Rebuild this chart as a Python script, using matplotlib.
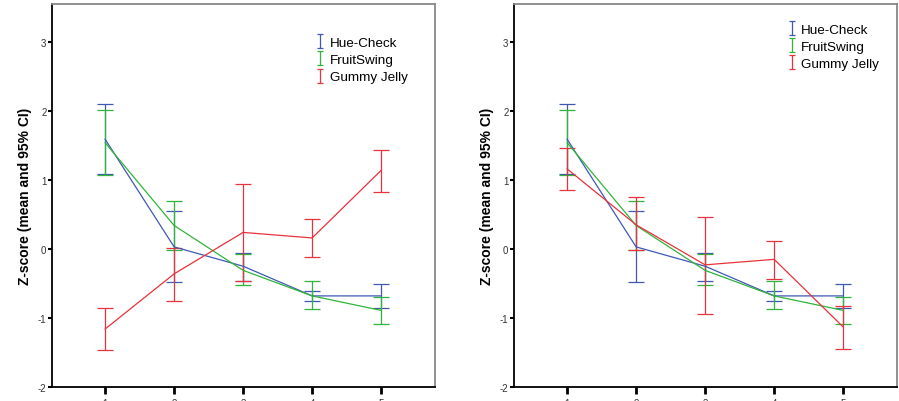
import matplotlib
matplotlib.use('Agg')
import matplotlib.pyplot as plt
from matplotlib.path import Path
from matplotlib.lines import Line2D

plt.rcParams['font.family'] = ['Liberation Sans', 'DejaVu Sans']
plt.rcParams['axes.unicode_minus'] = False

# --- Data ---
x = [1, 2, 3, 4, 5]
series = ['Hue-Check', 'FruitSwing', 'Gummy Jelly']
colors = ['#3f58b4', '#2fb53a', '#e8323c']

hue_mean = [1.59, 0.03, -0.25, -0.68, -0.68]
hue_lo = [1.08, -0.48, -0.46, -0.76, -0.85]
hue_hi = [2.10, 0.55, -0.06, -0.61, -0.51]

fruit_mean = [1.54, 0.34, -0.31, -0.68, -0.89]
fruit_lo = [1.07, -0.01, -0.52, -0.87, -1.08]
fruit_hi = [2.01, 0.69, -0.07, -0.47, -0.70]

# left panel: Gummy Jelly
gummy_a_mean = [-1.16, -0.36, 0.24, 0.16, 1.14]
gummy_a_lo = [-1.46, -0.75, -0.46, -0.12, 0.82]
gummy_a_hi = [-0.85, 0.02, 0.94, 0.43, 1.44]

# right panel: Gummy Jelly
gummy_b_mean = [1.16, 0.35, -0.23, -0.15, -1.13]
gummy_b_lo = [0.86, -0.02, -0.94, -0.43, -1.45]
gummy_b_hi = [1.47, 0.76, 0.46, 0.12, -0.82]

yticks = [-2, -1, 0, 1, 2, 3]

# I-beam marker for legend
ibeam = Path([(-0.5, 1), (0.5, 1), (0, 1), (0, -1), (-0.5, -1), (0.5, -1)],
             [Path.MOVETO, Path.LINETO, Path.MOVETO, Path.LINETO, Path.MOVETO, Path.LINETO])


def panel(ax, data, legend_anchor):
    for (m, lo, hi), c in zip(data, colors):
        yerr = [[a - b for a, b in zip(m, lo)], [b - a for a, b in zip(m, hi)]]
        ax.errorbar(x, m, yerr=yerr, color=c, lw=0.9, elinewidth=0.9,
                    capsize=6, capthick=0.9)
    ax.set_xlim(0.23, 5.78)
    ax.set_ylim(-2, 3.55)
    ax.set_xticks(x)
    ax.set_yticks(yticks)
    ax.tick_params(axis='y', length=3, width=1.5, pad=1, labelsize=7, labelcolor='#333333')
    ax.tick_params(axis='x', length=5, width=2, pad=3, labelsize=7, labelcolor='#333333')
    for s in ['left', 'bottom']:
        ax.spines[s].set_color('black')
        ax.spines[s].set_linewidth(1.3)
    for s in ['top', 'right']:
        ax.spines[s].set_color('#888888')
        ax.spines[s].set_linewidth(1.3)
    ax.set_ylabel('Z-score (mean and 95% CI)', fontsize=10, fontweight='bold', labelpad=4)
    handles = [Line2D([], [], ls='none', marker=ibeam, markersize=10,
                      markerfacecolor='none', markeredgecolor=c, markeredgewidth=0.9)
               for c in colors]
    ax.legend(handles, series, loc='upper left', bbox_to_anchor=legend_anchor,
              frameon=False, fontsize=9.7, handlelength=0.6, handletextpad=0.4,
              labelspacing=0.35, borderaxespad=0, borderpad=0)


fig = plt.figure(figsize=(8.99, 4.02), dpi=100)
ax1 = fig.add_axes([52 / 899, 1 - 388 / 402, 383 / 899, 383 / 402])
ax2 = fig.add_axes([514 / 899, 1 - 388 / 402, 383 / 899, 383 / 402])

panel(ax1, [(hue_mean, hue_lo, hue_hi), (fruit_mean, fruit_lo, fruit_hi),
            (gummy_a_mean, gummy_a_lo, gummy_a_hi)], (0.69, 0.915))
panel(ax2, [(hue_mean, hue_lo, hue_hi), (fruit_mean, fruit_lo, fruit_hi),
            (gummy_b_mean, gummy_b_lo, gummy_b_hi)], (0.715, 0.95))

fig.savefig('out.png', dpi=100)
